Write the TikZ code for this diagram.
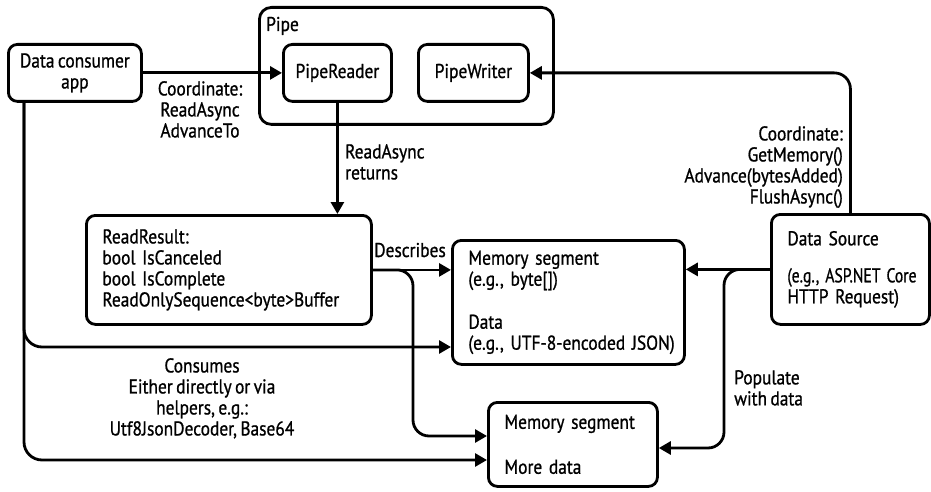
\documentclass[tikz,border=0pt]{standalone}
\usepackage{graphicx}
\usepackage{fontspec}
\setmainfont[FakeStretch=0.87,FakeBold=0.9]{PT Sans}
\usetikzlibrary{arrows.meta,calc}

\begin{document}
\begin{tikzpicture}[x=1pt,y=-1pt,
  font={\fontsize{20}{21}\selectfont\frenchspacing\spaceskip=3.4pt plus 1pt minus 1pt\relax},
  box/.style={draw, line width=2.8pt, rounded corners=9pt, inner sep=0pt, anchor=north west},
  leftbox/.style={box, align=left, inner xsep=16pt},
  conn/.style={line width=2.8pt},
  arr/.style={conn, -{Triangle[length=12pt,width=13pt]}},
  lbl/.style={inner sep=0pt}]

\useasboundingbox (0,0) rectangle (931,492);

% boxes
\node[box, align=center, minimum width=133, minimum height=57] (consumer) at (7,43) {Data consumer\\app};
\node[box, rounded corners=12pt, minimum width=294, minimum height=117] (pipe) at (258,6) {};
\node[lbl, anchor=base west] (pipelbl) at (266,31) {Pipe};
\node[box, minimum width=108, minimum height=57] (reader) at (282,43) {PipeReader};
\node[box, minimum width=110, minimum height=57] (writer) at (417,43) {PipeWriter};
\node[leftbox, text width=253, minimum height=109] (rr) at (85,214)
  {ReadResult:\\bool IsCanceled\\bool IsComplete\\\mbox{ReadOnlySequence<byte>Buffer}};
\node[leftbox, text width=200, minimum height=124] (mem1) at (451,239)
  {Memory segment\\(e.g., byte[])\\[22pt]Data\\\mbox{(e.g., UTF-8-encoded JSON)}};
\node[leftbox, text width=126, minimum height=110] (ds) at (770,213)
  {Data Source\\[16pt]\scalebox{0.9}[1]{(e.g., ASP.NET Core}\\HTTP Request)};
\node[leftbox, text width=137, minimum height=84] (mem2) at (487,401)
  {Memory segment\\[24pt]More data};

% connectors
\coordinate (dbend) at (413,436);
\coordinate (pbend) at (724,448);
\coordinate (cdown) at ($(consumer.south west)+(17,0)$);
\coordinate (cdata) at (24,347);
\coordinate (cmore) at (24,460);

\draw[arr] (consumer.east) -- (reader.west);
\draw[arr] (reader.south) -- (reader.south |- rr.north);
\draw[arr, rounded corners=16pt] (ds.north) |- (writer.east);
\draw[arr] (rr.east) -- (rr.east -| mem1.west);
\draw[arr, rounded corners=16pt] (rr.east) -| (dbend) -- (dbend -| mem2.west);
\draw[arr] (ds.west) -- (ds.west -| mem1.east);
\draw[arr, rounded corners=16pt] (ds.west) -| (pbend) -- (pbend -| mem2.east);
\draw[arr, rounded corners=18pt] (cdown) |- (cdata -| mem1.west);
\draw[arr, rounded corners=18pt] (cdown) |- (cmore -| mem2.west);

% connector labels
\node[lbl, align=center, anchor=north] (lcoordr) at (200,81) {Coordinate:\\ReadAsync\\AdvanceTo};
\node[lbl, align=left, anchor=north west] (lreturns) at (345,144) {ReadAsync\\returns};
\node[lbl, align=right, anchor=north east] (lcoordw) at (843,126) {Coordinate:\\GetMemory()\\Advance(bytesAdded)\\FlushAsync()};
\node[lbl, anchor=base] (ldescr) at (410,257) {Describes};
\node[lbl, align=center, anchor=north] (lconsume) at (202,358) {Consumes\\Either directly or via\\helpers, e.g.:\\Utf8JsonDecoder, Base64};
\node[lbl, align=left, anchor=north west] (lpop) at (734,370) {Populate\\with data};
\end{tikzpicture}
\end{document}
